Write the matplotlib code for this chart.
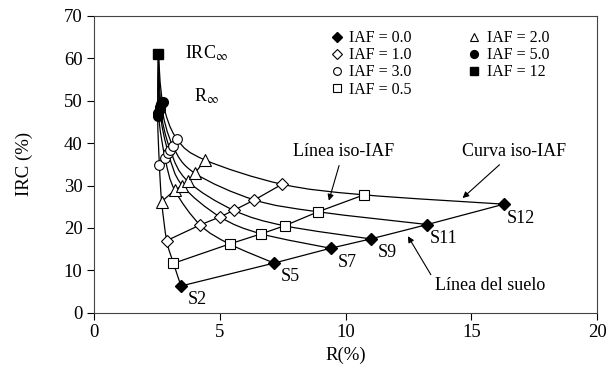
import numpy as np
import matplotlib
matplotlib.use('Agg')
import matplotlib.pyplot as plt
from matplotlib.path import Path
from matplotlib.patches import PathPatch

plt.rcParams['font.family'] = ['Liberation Serif', 'DejaVu Serif']
plt.rcParams['mathtext.fontset'] = 'stix'

# suelos (de izquierda a derecha)
soils = ['S2', 'S5', 'S7', 'S9', 'S11', 'S12']

# R(%) e IRC(%) para cada IAF, un valor por suelo
r_iaf00 = [3.45, 7.15, 9.40, 11.0, 13.25, 16.3]
irc_iaf00 = [6.3, 11.7, 15.2, 17.4, 20.8, 25.6]
r_iaf05 = [3.15, 5.38, 6.64, 7.57, 8.90, 10.73]
irc_iaf05 = [11.65, 16.2, 18.6, 20.5, 23.8, 27.8]
r_iaf10 = [2.88, 4.21, 5.00, 5.55, 6.37, 7.47]
irc_iaf10 = [17.0, 20.7, 22.6, 24.15, 26.6, 30.3]
r_iaf20 = [2.68, 3.20, 3.50, 3.72, 4.00, 4.41]
irc_iaf20 = [26.2, 28.9, 30.0, 31.0, 32.9, 36.0]
r_iaf30 = [2.59, 2.82, 2.95, 3.02, 3.12, 3.28]
irc_iaf30 = [34.8, 36.4, 37.6, 38.4, 39.4, 41.0]
r_iaf50 = [2.52, 2.55, 2.60, 2.62, 2.66, 2.72]
irc_iaf50 = [46.4, 47.2, 48.0, 48.6, 49.2, 49.8]
r_iaf12 = [2.55]
irc_iaf12 = [61.0]


def smooth_path(xs, ys):
    # curva suavizada tipo Excel (Catmull-Rom -> Bezier)
    p = np.column_stack([xs, ys]).astype(float)
    ext = np.vstack([p[0], p, p[-1]])
    verts = [p[0]]
    codes = [Path.MOVETO]
    for i in range(1, len(ext) - 2):
        c1 = ext[i] + (ext[i + 1] - ext[i - 1]) / 6.0
        c2 = ext[i + 1] - (ext[i + 2] - ext[i]) / 6.0
        verts += [c1, c2, ext[i + 1]]
        codes += [Path.CURVE4] * 3
    return Path(verts, codes)


fig = plt.figure(figsize=(6.1, 3.78), dpi=100)
ax = fig.add_axes([0.1546, 0.1728, 0.8241, 0.785])

series_r = [r_iaf00, r_iaf05, r_iaf10, r_iaf20, r_iaf30, r_iaf50]
series_irc = [irc_iaf00, irc_iaf05, irc_iaf10, irc_iaf20, irc_iaf30, irc_iaf50]

# curvas por suelo (IAF creciente)
for k in range(len(soils)):
    xs = [s[k] for s in series_r] + r_iaf12
    ys = [s[k] for s in series_irc] + irc_iaf12
    ax.add_patch(PathPatch(smooth_path(xs, ys), fill=False, lw=0.9,
                           ec='black', zorder=2))

# lineas iso-IAF
for xs, ys in zip(series_r, series_irc):
    ax.plot(xs, ys, color='black', lw=0.9, zorder=2)

ax.plot(r_iaf00, irc_iaf00, ls='none', marker='D', ms=6.5, mfc='black',
        mec='black', label='IAF = 0.0', zorder=3)
ax.plot(r_iaf10, irc_iaf10, ls='none', marker='D', ms=6.5, mfc='white',
        mec='black', mew=0.8, label='IAF = 1.0', zorder=3)
ax.plot(r_iaf30, irc_iaf30, ls='none', marker='o', ms=7, mfc='white',
        mec='black', mew=0.8, label='IAF = 3.0', zorder=3)
ax.plot(r_iaf05, irc_iaf05, ls='none', marker='s', ms=6.5, mfc='white',
        mec='black', mew=0.8, label='IAF = 0.5', zorder=3)
ax.plot(r_iaf20, irc_iaf20, ls='none', marker='^', ms=8, mfc='white',
        mec='black', mew=0.8, label='IAF = 2.0', zorder=3)
ax.plot(r_iaf50, irc_iaf50, ls='none', marker='o', ms=7, mfc='black',
        mec='black', label='IAF = 5.0', zorder=3)
ax.plot(r_iaf12, irc_iaf12, ls='none', marker='s', ms=7, mfc='black',
        mec='black', label='IAF = 12', zorder=3)

for name, x, y in zip(soils, r_iaf00, irc_iaf00):
    ax.annotate(name, (x, y), xytext=(12, -10), textcoords='offset points',
                ha='center', va='center', fontsize=13)

ax.text(3.6, 61.2, r'IRC$_\infty$', fontsize=13, va='center')
ax.text(3.95, 51.0, r'R$_\infty$', fontsize=13, va='center')

arrow = dict(arrowstyle='-|>', color='black', lw=0.8, mutation_scale=9)
ax.annotate('Línea iso-IAF', xy=(9.3, 25.8), xytext=(9.9, 38.0),
            ha='center', va='center', fontsize=13, arrowprops=arrow)
ax.annotate('Curva iso-IAF', xy=(14.57, 26.6), xytext=(16.7, 38.0),
            ha='center', va='center', fontsize=13, arrowprops=arrow)
ax.annotate('Línea del suelo', xy=(12.42, 18.6), xytext=(15.75, 6.5),
            ha='center', va='center', fontsize=13,
            arrowprops=dict(arrow, relpos=(0.0, 0.7)))

ax.set_xlim(0, 20)
ax.set_ylim(0, 70)
ax.set_xticks([0, 5, 10, 15, 20])
ax.set_yticks(range(0, 71, 10))
ax.tick_params(direction='out', length=5, width=0.8, labelsize=13.5,
               top=False, right=False)
for sp in ax.spines.values():
    sp.set_linewidth(0.8)
    sp.set_color('#444444')

ax.set_xlabel('R(%)', fontsize=13.5, labelpad=4)
ax.set_ylabel('IRC (%)', fontsize=13.5, labelpad=22)

ax.legend(loc='upper left', bbox_to_anchor=(0.466, 0.952), ncol=2,
          frameon=False, fontsize=11.5, labelspacing=0.07, handletextpad=0.3,
          columnspacing=3.4, handlelength=1.0, borderpad=0, borderaxespad=0,
          markerscale=0.8)

plt.savefig('out.png', dpi=100)
